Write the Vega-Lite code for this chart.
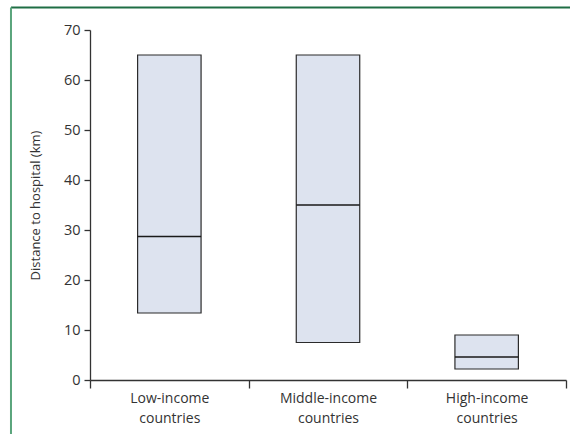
{
  "$schema": "https://vega.github.io/schema/vega-lite/v6.json",
  "width": 476,
  "height": 350,
  "autosize": "none",
  "padding": {"left": 90, "top": 30, "right": 4, "bottom": 54},
  "background": "white",
  "config": {
    "view": {"stroke": null},
    "font": "Open Sans",
    "axis": {
      "labelFont": "Open Sans",
      "titleFont": "Open Sans",
      "labelColor": "#333333",
      "titleColor": "#333333",
      "domainColor": "#333333",
      "tickColor": "#333333",
      "domainWidth": 1.3,
      "tickWidth": 1.3,
      "grid": false
    }
  },
  "datasets": {
    "boxes": [
      {"group": "Low-income countries", "q1": 13.4, "median": 28.7, "q3": 65},
      {"group": "Middle-income countries", "q1": 7.5, "median": 35, "q3": 65},
      {"group": "High-income countries", "q1": 2.2, "median": 4.6, "q3": 9}
    ],
    "frame": [
      {"side": "top", "fx": -0.166, "fx2": 1.02, "fy": 74.5, "fy2": 74.5},
      {"side": "left", "fx": -0.166, "fx2": -0.166, "fy": 74.5, "fy2": -12}
    ]
  },
  "layer": [
    {
      "data": {"name": "boxes"},
      "encoding": {
        "x": {
          "field": "group", "type": "nominal", "sort": null,
          "scale": {"paddingInner": 0, "paddingOuter": 0},
          "axis": {
            "title": null, "labelAngle": 0, "tickBand": "extent", "tickSize": 8,
            "labelFontSize": 14, "labelPadding": 3, "labelLineHeight": 20,
            "labelExpr": "split(datum.label, ' ')"
          }
        }
      },
      "layer": [
        {
          "mark": {"type": "bar", "fill": "#dde3ef", "stroke": "#2b2b2b", "strokeWidth": 1.2, "width": {"band": 0.4}},
          "encoding": {
            "y": {
              "field": "q1", "type": "quantitative",
              "scale": {"domain": [0, 70], "nice": false, "zero": true},
              "axis": {
                "title": "Distance to hospital (km)", "values": [0, 10, 20, 30, 40, 50, 60, 70],
                "tickSize": 6, "labelFontSize": 14.5, "labelPadding": 4,
                "titleFontSize": 13, "titleFontWeight": "normal", "titlePadding": 21
              }
            },
            "y2": {"field": "q3"}
          }
        },
        {
          "mark": {"type": "bar", "fill": null, "stroke": "#1a1a1a", "strokeWidth": 1.4, "width": {"band": 0.4}},
          "encoding": {
            "y": {"field": "median", "type": "quantitative", "title": "Distance to hospital (km)"},
            "y2": {"field": "median"}
          }
        }
      ]
    },
    {
      "data": {"name": "frame"},
      "mark": {"type": "rule", "strokeWidth": 2, "clip": false},
      "encoding": {
        "x": {"field": "fx", "type": "quantitative", "scale": {"domain": [0, 1], "nice": false, "zero": false}, "axis": null},
        "x2": {"field": "fx2"},
        "y": {"field": "fy", "type": "quantitative", "title": "Distance to hospital (km)"},
        "y2": {"field": "fy2"},
        "color": {"field": "side", "type": "nominal", "scale": {"domain": ["top", "left"], "range": ["#1f6e45", "#5aa57c"]}, "legend": null}
      }
    }
  ],
  "resolve": {"scale": {"x": "independent", "color": "independent"}, "axis": {"x": "independent"}}
}
